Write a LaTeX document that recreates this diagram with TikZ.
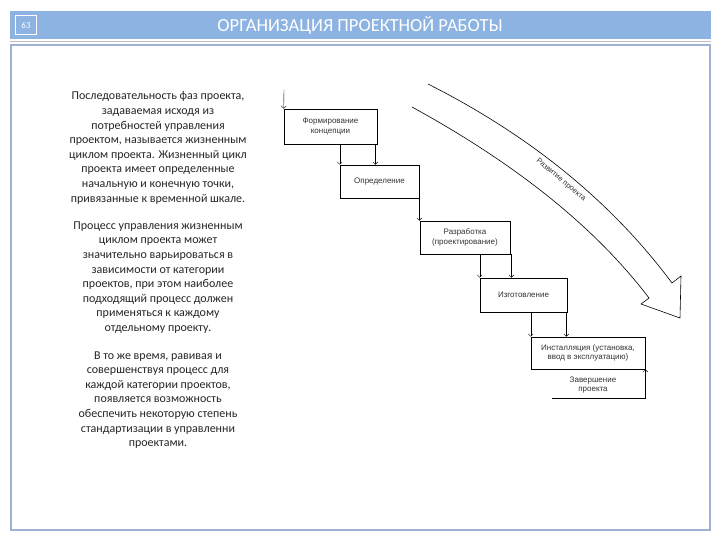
\documentclass[tikz,border=0pt]{standalone}
\usepackage{fontspec}
\setmainfont{Carlito}
\newfontfamily\shemafont{Liberation Sans}
\usetikzlibrary{arrows.meta,positioning}

\definecolor{shapka}{HTML}{8DB3E2}
\definecolor{ramka}{HTML}{9DB2D3}

\begin{document}
\begin{tikzpicture}[x=1pt,y=-1pt,every node/.style={inner sep=0pt},
    etap/.style={draw,line width=.6pt,minimum height=33pt,align=center,
      font=\shemafont\fontsize{8}{9.5}\selectfont,text=black!80},
    abzac/.style={align=center,font=\fontsize{12}{14.6}\selectfont,text=black!85},
    >={Straight Barb[length=2.5pt,width=5pt]}]
    \useasboundingbox (0,0) rectangle (720,540);

    % Шапка слайда: синяя полоса, номер и заголовок.
    \fill[shapka] (10,11) rectangle (711,39);
    \draw[black!25] (10,41) -- (711,41);
    \node[draw=white,line width=1pt,minimum width=21pt,minimum height=19pt,
      text=white,font=\fontsize{9}{9}\selectfont] (nomer) at (26,25) {63};
    \node[text=white,font=\fontsize{18.5}{18.5}\selectfont] (zagolovok) at (360,25)
      {ОРГАНИЗАЦИЯ ПРОЕКТНОЙ РАБОТЫ};
    \draw[ramka,line width=2pt,fill=white] (11,45) rectangle (710,530);

    % Текст слева, три абзаца.
    \node[abzac] (abzac1) at (158,148) {Последовательность фаз проекта,\\
      задаваемая исходя из\\ потребностей управления\\
      проектом, называется жизненным\\ циклом проекта. Жизненный цикл\\
      проекта имеет определенные\\ начальную и конечную точки,\\
      привязанные к временной шкале.};
    \node[abzac] (abzac2) at (158,277.5) {Процесс управления жизненным\\
      циклом проекта может\\ значительно варьироваться в\\
      зависимости от категории\\ проектов, при этом наиболее\\
      подходящий процесс должен\\ применяться к каждому\\
      отдельному проекту.};
    \node[abzac] (abzac3) at (158,400) {В то же время, равивая и\\
      совершенствуя процесс для\\ каждой категории проектов,\\
      появляется возможность\\ обеспечить некоторую степень\\
      стандартизации в управленни\\ проектами.};

    % Лестница этапов жизненного цикла.
    \node[etap,minimum width=93pt,minimum height=35pt] (form) at (330.5,126.5)
      {Формирование\\концепции};
    \node[etap,minimum width=79pt] (opr) at (379.5,181.5) {Определение};
    \node[etap,minimum width=90pt] (razr) at (465,237.5)
      {Разработка\\(проектирование)};
    \node[etap,minimum width=87pt,minimum height=34pt] (izg) at (523.5,295)
      {Изготовление};
    \node[etap,minimum width=114pt,minimum height=32pt] (inst) at (588,353)
      {Инсталляция (установка,\\ввод в эксплуатацию)};
    \node[etap,draw=none] (zav) at (593,385) {Завершение\\проекта};
    \coordinate (vhod) at (284,90);
    \coordinate (zavniz) at (552,398);

    % Переходы между этапами.
    \draw[->] (vhod) -- (form.north west);
    \draw[->] (form.south -| opr.west) -- (opr.north west);
    \draw[->] ([xshift=-2pt]form.south east) -- ([xshift=-2pt]form.south east |- opr.north);
    \draw[->] (opr.south east) -- (opr.south east |- razr.north);
    \draw[->] (razr.south -| izg.west) -- (izg.north west);
    \draw[->] ([xshift=1pt]razr.south east) -- ([xshift=1pt]razr.south east |- izg.north);
    \draw[->] (izg.south -| inst.west) -- (inst.north west);
    \draw[->] ([xshift=-1pt]izg.south east) -- ([xshift=-1pt]izg.south east |- inst.north);
    \draw[->] (zavniz) -- (zavniz -| inst.south east) -- (inst.south east);

    % Большая изогнутая стрелка.
    \draw[line width=.6pt,line join=miter] (412,107) .. controls (516,164) and (595,227) .. (649,298)
      -- (641,304) -- (680,318) -- (681,276) -- (672,283)
      .. controls (611,201) and (529,135) .. (428,84);
    \node[rotate=-40,font=\shemafont\fontsize{7.5}{7.5}\selectfont,text=black!80] (razvitie)
      at (561,180) {Развитие проекта};
\end{tikzpicture}
\end{document}
